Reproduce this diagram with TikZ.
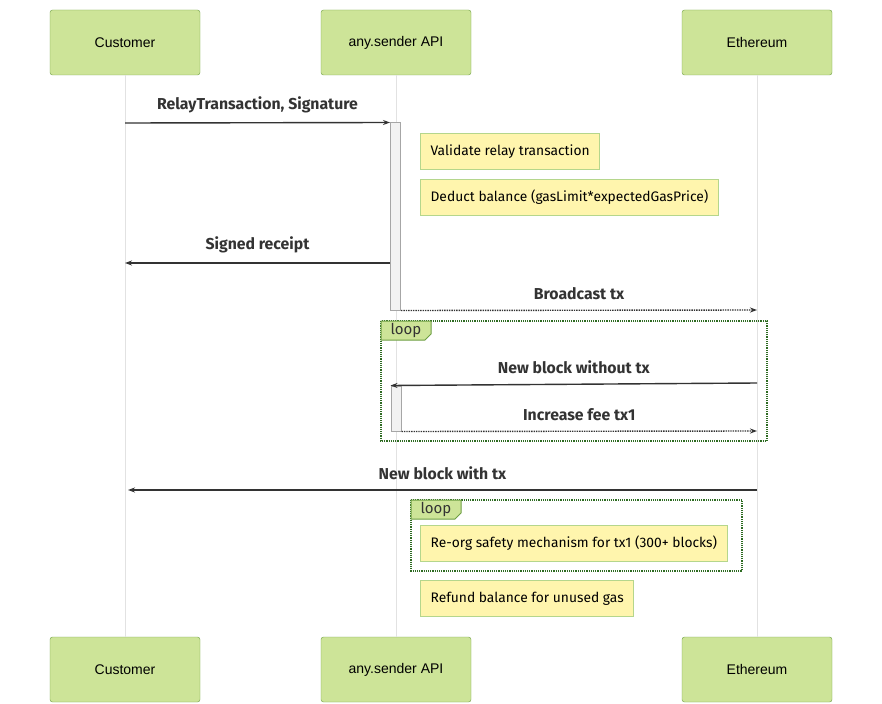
\documentclass[tikz,border=0pt]{standalone}
\usepackage{fontspec}
\setmainfont{Liberation Sans}
\newfontfamily\msgfont{Fira Sans}
\usetikzlibrary{positioning,arrows.meta}
\definecolor{actorfill}{HTML}{CDE498}
\definecolor{actorline}{HTML}{6E9F43}
\definecolor{notefill}{HTML}{FFF5AD}
\definecolor{noteline}{HTML}{B5D68C}
\definecolor{loopline}{HTML}{2E6B22}
\definecolor{lifeline}{HTML}{E2E2E2}
\definecolor{msgline}{HTML}{333333}
\tikzset{>={Stealth[length=7pt,width=5pt]}}
\tikzset{
  actor/.style={draw=actorline, fill=actorfill, rounded corners=2.5pt, minimum width=150pt, minimum height=65pt, inner sep=0pt, font=\fontsize{14}{16}\selectfont},
  life/.style={draw=lifeline, line width=1pt},
  msg/.style={draw=msgline, line width=1.4pt, ->},
  reply/.style={msg, densely dotted},
  lbl/.style={above=6pt, font=\msgfont\bfseries\fontsize{15.8}{18}\selectfont, text=msgline},
  note/.style={draw=noteline, fill=notefill, line width=1.2pt, anchor=north west, minimum height=36pt, inner xsep=10pt, font=\msgfont\fontsize{13.8}{16}\selectfont},
  actbox/.style={draw=black!35, fill=black!5, line width=1pt, minimum width=10pt, inner sep=0pt},
  loopbox/.style={draw=loopline, densely dotted, line width=1.2pt},
  looptab/.style={draw=actorline, fill=actorfill, line width=1pt}
}
\begin{document}
\begin{tikzpicture}[x=1pt,y=-1pt]
    \useasboundingbox (0,0) rectangle (882,703);
    % actors
    \node[actor] (cust) at (125,42.5) {Customer};
    \node[actor] (api) at (396,42.5) {any.sender API};
    \node[actor] (eth) at (757,42.5) {Ethereum};
    \node[actor] (custb) at (125,669.5) {Customer};
    \node[actor] (apib) at (396,669.5) {any.sender API};
    \node[actor] (ethb) at (757,669.5) {Ethereum};
    \draw[life] (cust) -- (custb);
    \draw[life] (api) -- (apib);
    \draw[life] (eth) -- (ethb);

    % activations
    \node[actbox, minimum height=187pt] (act1) at (395.5,216.5) {};
    \node[actbox, minimum height=45pt] (act2) at (396,408.5) {};

    % loops
    \draw[loopbox] (381,321) rectangle (767,441);
    \draw[looptab] (381,321) -- (431,321) -- (431,334) -- (425,340) -- (381,340) -- cycle;
    \node[font=\msgfont\fontsize{15}{17}\selectfont, text=msgline] (loop1) at (406,330.5) {loop};
    \draw[loopbox] (411,500) rectangle (742,571);
    \draw[looptab] (411,500) -- (461,500) -- (461,513) -- (455,519) -- (411,519) -- cycle;
    \node[font=\msgfont\fontsize{15}{17}\selectfont, text=msgline] (loop2) at (436,509.5) {loop};

    % message ends
    \coordinate (c1) at (125,123);
    \coordinate (c2) at (125,263);
    \coordinate (c3) at (128,490);
    \coordinate (e1) at (757,310);
    \coordinate (e2) at (757,383);
    \coordinate (e3) at (757,431);
    \coordinate (e4) at (757,490);

    \draw[msg] (c1) -- node[lbl] {RelayTransaction, Signature} (act1.north west);
    \draw[msg] (act1.west |- c2) -- node[lbl] {Signed receipt} (c2);
    \draw[reply] (act1.south east) -- node[lbl] {Broadcast tx} (e1);
    \draw[msg] (e2) -- node[lbl] {New block without tx} (act2.north west);
    \draw[reply] (act2.south east) -- node[lbl] {Increase fee tx1} (e3);
    \draw[msg] (e4) -- node[lbl] {New block with tx} (c3);

    % notes
    \node[note] (n1) at (420,133) {Validate relay transaction};
    \node[note] (n2) at (420,179) {Deduct balance (gasLimit*expectedGasPrice)};
    \node[note] (n3) at (420,525) {Re-org safety mechanism for tx1 (300+ blocks)};
    \node[note] (n4) at (420,580) {Refund balance for unused gas};
\end{tikzpicture}
\end{document}
